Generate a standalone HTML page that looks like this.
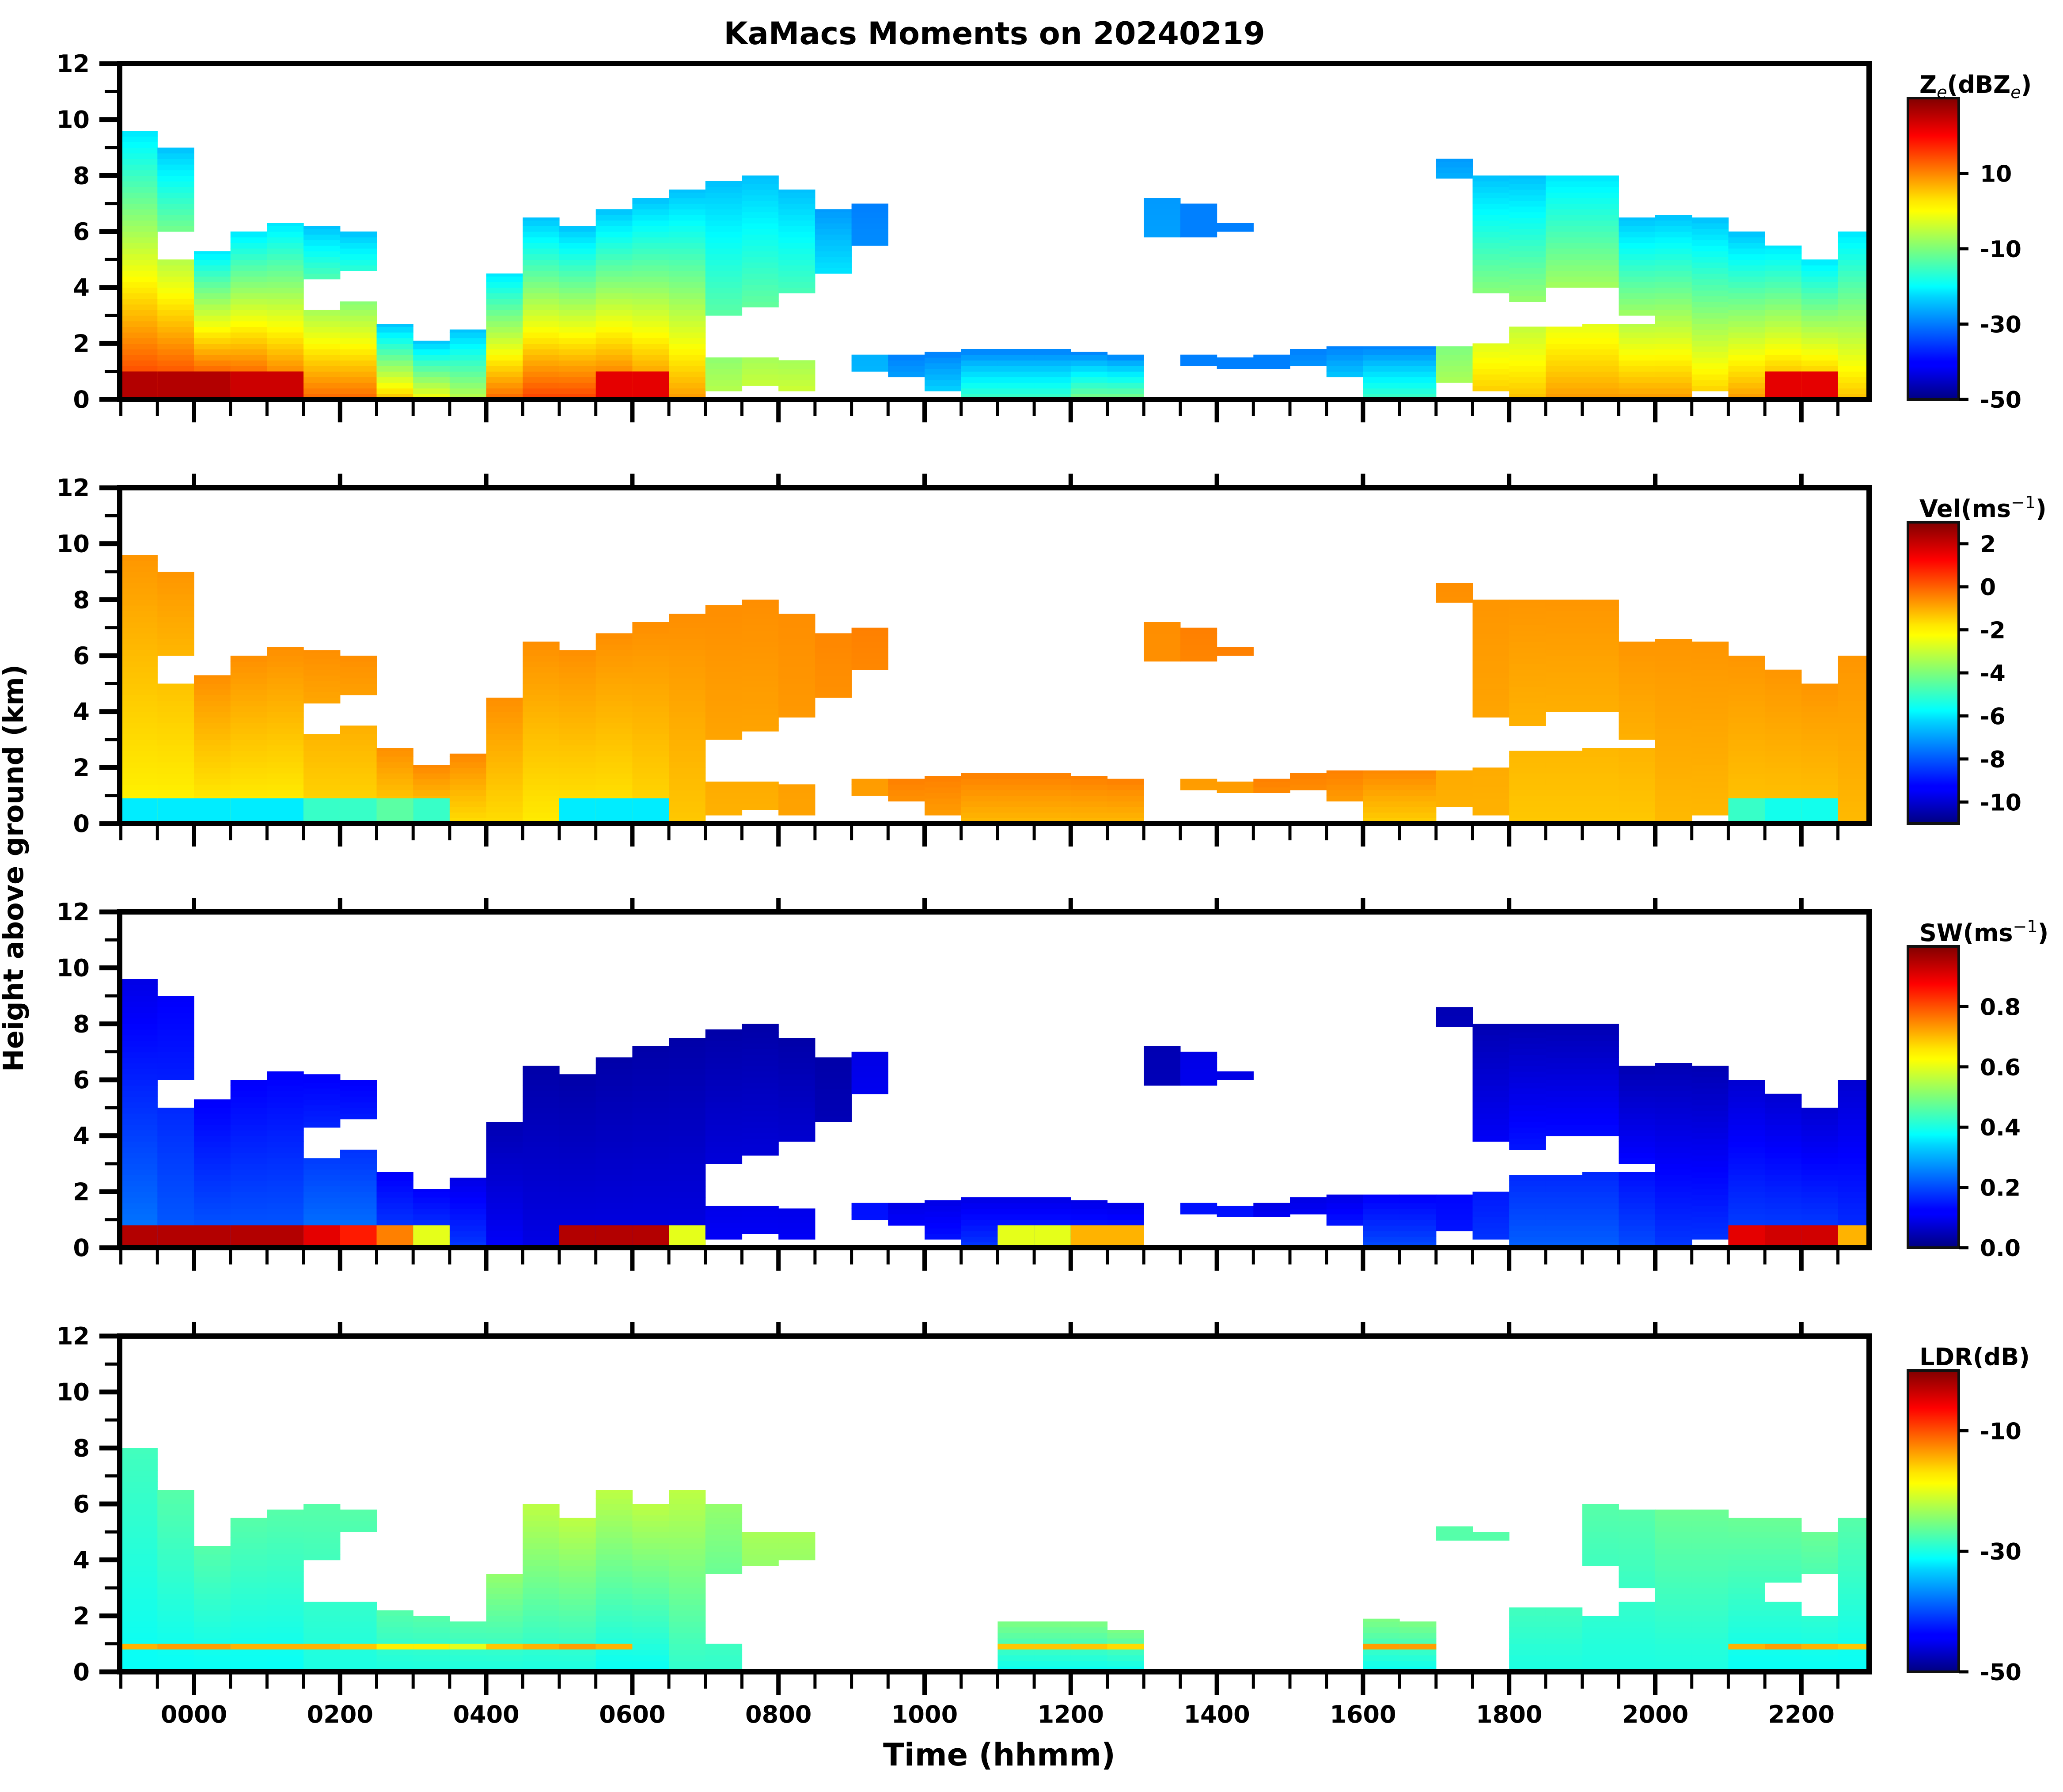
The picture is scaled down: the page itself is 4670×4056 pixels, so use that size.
<!DOCTYPE html>
<html><head><meta charset="utf-8"><style>
html,body{margin:0;padding:0;background:#fff}
svg{display:block;font-family:"DejaVu Sans","Liberation Sans",sans-serif;font-weight:bold}
</style></head><body>
<svg id="fig" xmlns="http://www.w3.org/2000/svg" width="4670" height="4056" viewBox="0 0 4670 4056">
<defs>
<linearGradient id="jet" x1="0" y1="1" x2="0" y2="0">
<stop offset="0" stop-color="#000080"/><stop offset="0.11" stop-color="#0000ff"/><stop offset="0.125" stop-color="#0000ff"/>
<stop offset="0.34" stop-color="#00d4ff"/><stop offset="0.375" stop-color="#00ffff"/><stop offset="0.5" stop-color="#7dff7a"/>
<stop offset="0.625" stop-color="#ffff00"/><stop offset="0.66" stop-color="#ffe600"/><stop offset="0.875" stop-color="#ff0000"/><stop offset="1" stop-color="#800000"/>
</linearGradient>
<clipPath id="plotclip"><rect x="277" y="0" width="3948" height="4056"/></clipPath>
</defs>
<text x="2251" y="100" text-anchor="middle" font-size="70">KaMacs Moments on 20240219</text>
<text x="2262" y="3996" text-anchor="middle" font-size="70">Time (hhmm)</text>
<text transform="translate(52,1965) rotate(-90)" text-anchor="middle" font-size="62">Height above ground (km)</text>
<g id="panels"></g>
</svg>
<script>
// column start times (hours relative to 0000 UTC), each 0.5 h wide
const colStart = [-1,-0.5,0,0.5,1,1.5,2,2.5,3,3.5,4,4.5,5,5.5,6,6.5,7,7.5,8,8.5,9,9.5,10,10.5,11,11.5,12,12.5,13,13.5,14,14.5,15,15.5,16,16.5,17,17.5,18,18.5,19,19.5,20,20.5,21,21.5,22,22.5];
// cloud layers (km) for Ze / Vel / SW
const base1 = [0,0,0,0,0,0,0,0,0,0,0,0,0,0,0,0,0.3,0.5,0.3,4.5,1.0,0.8,0.3,0,0,0,0,0,5.8,1.2,1.1,1.1,1.2,0.8,0,0,0.6,0.3,0,0,0,0,0,0.3,0,0,0,0];
const top1  = [9.6,5.0,5.3,6.0,6.3,3.2,3.5,2.7,2.1,2.5,4.5,6.5,6.2,6.8,7.2,7.5,1.5,1.5,1.4,6.8,1.6,1.6,1.7,1.8,1.8,1.8,1.7,1.6,7.2,1.6,1.5,1.6,1.8,1.9,1.9,1.9,1.9,2.0,2.6,2.6,2.7,2.7,6.6,6.5,6.0,5.5,5.0,6.0];
const base2 = [null,6.0,null,null,null,4.3,4.6,null,null,null,null,null,null,null,null,null,3.0,3.3,3.8,null,5.5,null,null,null,null,null,null,null,null,5.8,6.0,null,null,null,null,null,7.9,3.8,3.5,4.0,4.0,3.0,null,null,null,null,null,null];
const top2  = [null,9.0,null,null,null,6.2,6.0,null,null,null,null,null,null,null,null,null,7.8,8.0,7.5,null,7.0,null,null,null,null,null,null,null,null,7.0,6.3,null,null,null,null,null,8.6,8.0,8.0,8.0,8.0,6.5,null,null,null,null,null,null];
// Ze (dBZe) near-surface and cloud-top values, plus 0-1 km bright band
const zeBottom = [18,18,20,18,15,12,12,5,0,-5,12,15,15,15,12,8,-5,-3,-3,-10,-25,-25,-22,-15,-15,-15,-10,-10,-25,-30,-30,-30,-25,-20,-15,-15,-5,5,5,8,8,8,8,5,8,10,10,5];
const zeTop    = [-22,-25,-22,-22,-22,-25,-25,-25,-25,-25,-22,-25,-25,-25,-25,-25,-25,-25,-25,-28,-30,-30,-30,-30,-30,-30,-30,-30,-28,-30,-30,-30,-30,-30,-30,-30,-28,-25,-25,-22,-22,-25,-25,-25,-25,-22,-22,-22];
const zeBand   = [26,26,26,24,24,null,null,null,null,null,null,null,null,22,22,null,null,null,null,null,null,null,null,null,null,null,null,null,null,null,null,null,null,null,null,null,null,null,null,null,null,null,null,null,null,22,22,null];
// Doppler velocity (m/s)
const velBottom = [-2.2,-2.2,-2.2,-2.2,-2.2,-1.8,-1.8,-1.8,-1.8,-1.8,-1.8,-2,-2,-2,-1.8,-1.5,-1.2,-1.2,-1,-1,-1,-1,-1,-1.3,-1.3,-1.3,-1.3,-1.3,-0.8,-1,-1,-1,-1,-1.2,-1.6,-1.6,-1.2,-1.2,-1.5,-1.5,-1.5,-1.5,-1.3,-1.3,-1.5,-1.5,-1.5,-1.3];
const velTop    = [-0.8,-0.8,-0.7,-0.7,-0.7,-0.7,-0.7,-0.7,-0.6,-0.6,-0.7,-0.7,-0.7,-0.7,-0.7,-0.7,-0.7,-0.7,-0.7,-0.6,-0.5,-0.5,-0.5,-0.5,-0.5,-0.5,-0.5,-0.5,-0.7,-0.5,-0.5,-0.5,-0.5,-0.5,-0.6,-0.6,-0.7,-0.8,-0.8,-0.8,-0.8,-0.8,-0.8,-0.8,-0.8,-0.8,-0.8,-0.8];
const velBand   = [-6,-6,-6,-6,-6,-5,-5,-4.5,-5,null,null,null,-6,-6,-6,null,null,null,null,null,null,null,null,null,null,null,null,null,null,null,null,null,null,null,null,null,null,null,null,null,null,null,null,null,-5,-5.5,-5.5,null];
// spectrum width (m/s)
const swBottom = [0.25,0.22,0.22,0.22,0.22,0.25,0.25,0.2,0.2,0.18,0.12,0.1,0.1,0.1,0.1,0.1,0.12,0.12,0.12,0.08,0.15,0.15,0.15,0.18,0.18,0.18,0.18,0.18,0.08,0.15,0.15,0.15,0.15,0.18,0.2,0.2,0.15,0.18,0.22,0.22,0.22,0.2,0.18,0.18,0.2,0.2,0.2,0.18];
const swTop    = [0.1,0.12,0.12,0.12,0.12,0.12,0.12,0.12,0.12,0.1,0.05,0.04,0.04,0.04,0.04,0.04,0.04,0.04,0.04,0.04,0.1,0.1,0.1,0.1,0.1,0.1,0.1,0.1,0.05,0.1,0.1,0.1,0.1,0.1,0.12,0.12,0.05,0.05,0.05,0.05,0.05,0.05,0.05,0.05,0.08,0.08,0.08,0.08];
const swBand   = [0.95,0.95,0.95,0.95,0.95,0.9,0.85,0.75,0.6,null,null,null,0.95,0.95,0.95,0.6,null,null,null,null,null,null,null,null,0.6,0.6,0.7,0.7,null,null,null,null,null,null,null,null,null,null,null,null,null,null,null,null,0.9,0.92,0.92,0.7];
// LDR (dB) layers
const ldrBase1 = [0,0,0,0,0,0,0,0,0,0,0,0,0,0,0,0,0,3.8,4.0,null,null,null,null,null,0,0,0,0,null,null,null,null,null,null,0,0,4.7,4.7,0,0,0,0,0,0,0,0,0,0];
const ldrTop1  = [8.0,6.5,4.5,5.5,5.8,2.5,2.5,2.2,2.0,1.8,3.5,6.0,5.5,6.5,6.0,6.5,1.0,5.0,5.0,null,null,null,null,null,1.8,1.8,1.8,1.5,null,null,null,null,null,null,1.9,1.8,5.2,5.0,2.3,2.3,2.0,2.5,5.8,5.8,5.5,2.5,2.0,5.5];
const ldrBase2 = [null,null,null,null,null,4.0,5.0,null,null,null,null,null,null,null,null,null,3.5,null,null,null,null,null,null,null,null,null,null,null,null,null,null,null,null,null,null,null,null,null,null,null,3.8,3.0,null,null,null,3.2,3.5,null];
const ldrTop2  = [null,null,null,null,null,6.0,5.8,null,null,null,null,null,null,null,null,null,6.0,null,null,null,null,null,null,null,null,null,null,null,null,null,null,null,null,null,null,null,null,null,null,null,6.0,5.8,null,null,null,5.5,5.0,null];
const ldrBottom = [-31,-31,-31,-31,-31,-30,-30,-30,-30,-30,-30,-30,-30,-31,-31,-29,-29,-27,-27,-29,-29,-29,-29,-29,-31,-31,-31,-31,-29,-29,-29,-29,-29,-29,-31,-31,-28,-28,-30,-30,-30,-30,-30,-30,-31,-31,-31,-31];
const ldrTop    = [-28,-27,-27,-27,-27,-27,-27,-27,-27,-27,-24,-22,-22,-22,-22,-22,-24,-23,-23,-24,-24,-24,-24,-24,-25,-25,-25,-25,-24,-24,-24,-24,-24,-24,-25,-25,-27,-27,-28,-28,-27,-27,-26,-26,-26,-26,-26,-27];
const ldrBand   = [-15,-14,-14,-15,-15,-15,-16,-18,-18,-20,-16,-15,-14,-15,null,null,null,null,null,null,null,null,null,null,-16,-16,-16,-17,null,null,null,null,null,null,-14,-14,null,null,null,null,null,null,null,null,-15,-14,-15,-16];
// axis ticks
const yTicks = [0,2,4,6,8,10,12];
const yMinorTicks = [1,3,5,7,9,11];
const xMajorTicks = [0,2,4,6,8,10,12,14,16,18,20,22];
const xMajorLabels = ["0000","0200","0400","0600","0800","1000","1200","1400","1600","1800","2000","2200"];
const xMinorTicks = [-1,-0.5,0.5,1,1.5,2.5,3,3.5,4.5,5,5.5,6.5,7,7.5,8.5,9,9.5,10.5,11,11.5,12.5,13,13.5,14.5,15,15.5,16.5,17,17.5,18.5,19,19.5,20.5,21,21.5,22.5];
const zeCbTicks = [10,-10,-30,-50];
const velCbTicks = [2,0,-2,-4,-6,-8,-10];
const swCbTicks = [0.8,0.6,0.4,0.2,0.0];
const ldrCbTicks = [-10,-30,-50];

const NS = "http://www.w3.org/2000/svg";
const X0 = 439, PXH = 165.4, PH = 760, PXKM = PH/12;
function xScale(t){ return X0 + t*PXH; }
function jet(x){
  x = Math.max(0, Math.min(1, x));
  const c = v => Math.round(255*Math.max(0, Math.min(1, v)));
  return `rgb(${c(1.5-Math.abs(4*x-3))},${c(1.5-Math.abs(4*x-2))},${c(1.5-Math.abs(4*x-1))})`;
}
function mk(tag, attrs, parent){
  const e = document.createElementNS(NS, tag);
  for (const k in attrs) e.setAttribute(k, attrs[k]);
  parent.appendChild(e); return e;
}
const root = document.getElementById('panels');

const panels = [
 {name:'ze', top:144, b1:base1, t1:top1, b2:base2, t2:top2, vb:zeBottom, vt:zeTop, band:zeBand, bandLo:0, bandHi:1.0, vmin:-50, vmax:30, ticks:zeCbTicks, fmt:v=>String(v), title:'ze'},
 {name:'vel', top:1104, b1:base1, t1:top1, b2:base2, t2:top2, vb:velBottom, vt:velTop, band:velBand, bandLo:0, bandHi:0.9, vmin:-11, vmax:3, ticks:velCbTicks, fmt:v=>String(v), title:'vel'},
 {name:'sw', top:2064, b1:base1, t1:top1, b2:base2, t2:top2, vb:swBottom, vt:swTop, band:swBand, bandLo:0, bandHi:0.8, vmin:0, vmax:1.0, ticks:swCbTicks, fmt:v=>v.toFixed(1), title:'sw'},
 {name:'ldr', top:3024, b1:ldrBase1, t1:ldrTop1, b2:ldrBase2, t2:ldrTop2, vb:ldrBottom, vt:ldrTop, band:ldrBand, bandLo:0.8, bandHi:1.0, vmin:-50, vmax:0, ticks:ldrCbTicks, fmt:v=>String(v), title:'ldr'}
];

panels.forEach((p, pi) => {
  const bottom = p.top + PH;
  const yScale = h => bottom - h*PXKM;
  const g = mk('g', {}, root);
  
  
  const cells = mk('g', {'clip-path':'url(#plotclip)'}, g);
  
  
  const norm = v => (v - p.vmin)/(p.vmax - p.vmin);
  colStart.forEach((t, i) => {
    const x1 = xScale(t), x2 = xScale(t + 0.5);
    const tops = [p.t1[i], p.t2[i]].filter(v => v != null);
    if (!tops.length) return;
    const colTop = Math.max(...tops);
    const layers = [[p.b1[i], p.t1[i]], [p.b2[i], p.t2[i]]];
    layers.forEach(([b, tp]) => {
      if (b == null || tp == null) return;
      const step = 0.2;
      for (let h = b; h < tp - 1e-6; h += step) {
        const hh = Math.min(step, tp - h);
        const f = Math.min(1, (h + hh/2)/colTop);
        const v = p.vb[i] + (p.vt[i] - p.vb[i]) * f;
        const r = mk('rect', {x:x1.toFixed(1), y:yScale(h+hh).toFixed(1), width:(x2-x1+0.6).toFixed(1), height:(hh*PXKM+0.6).toFixed(1), fill:jet(norm(v))}, cells);
        
        
      }
      if (p.band[i] != null && b <= p.bandLo + 0.01) {
        const lo = Math.max(b, p.bandLo), hi = Math.min(tp, p.bandHi);
        if (hi > lo) {
          const r = mk('rect', {x:x1.toFixed(1), y:yScale(hi).toFixed(1), width:(x2-x1+0.6).toFixed(1), height:((hi-lo)*PXKM).toFixed(1), fill:jet(norm(p.band[i]))}, cells);
          
          
        }
      }
    });
  });
  const fr = mk('rect', {x:271, y:p.top, width:3960, height:PH, fill:'none', stroke:'#000', 'stroke-width':12}, g);
  
  
  yTicks.forEach(v => {
    const y = yScale(v);
    const l = mk('line', {x1:225, x2:271, y1:y, y2:y, stroke:'#000', 'stroke-width':11}, g);
    
    
    const tx = mk('text', {x:203, y:y+19, 'text-anchor':'end', 'font-size':54}, g);
    
    
    tx.textContent = v;
  });
  yMinorTicks.forEach(v => {
    const y = yScale(v);
    const l = mk('line', {x1:237, x2:271, y1:y, y2:y, stroke:'#000', 'stroke-width':7}, g);
    
    
  });
  xMajorTicks.forEach((t, k) => {
    const x = xScale(t);
    const l = mk('line', {x1:x, x2:x, y1:bottom+6, y2:bottom+52, stroke:'#000', 'stroke-width':10}, g);
    
    
    if (pi > 0) {
      const u = mk('line', {x1:x, x2:x, y1:p.top-6, y2:p.top-32, stroke:'#000', 'stroke-width':10}, g);
      
      
    }
    if (pi === panels.length - 1) {
      const tx = mk('text', {x:x, y:3899, 'text-anchor':'middle', 'font-size':54}, g);
      
      
      tx.textContent = xMajorLabels[k];
    }
  });
  xMinorTicks.forEach(t => {
    const x = xScale(t);
    const l = mk('line', {x1:x, x2:x, y1:bottom+6, y2:bottom+38, stroke:'#000', 'stroke-width':7}, g);
    
    
  });
  const cbTop = p.top + 78, cbBot = bottom, cbX = 4319, cbW = 115;
  const cb = mk('rect', {x:cbX, y:cbTop, width:cbW, height:cbBot-cbTop, fill:'url(#jet)', stroke:'#111', 'stroke-width':6}, g);
  
  
  const cbY = v => cbBot - (v - p.vmin)/(p.vmax - p.vmin)*(cbBot - cbTop);
  p.ticks.forEach(v => {
    const y = cbY(v);
    const l = mk('line', {x1:cbX+cbW, x2:cbX+cbW+22, y1:y, y2:y, stroke:'#000', 'stroke-width':7}, g);
    
    
    const tx = mk('text', {x:4482, y:y+19, 'font-size':52}, g);
    
    
    tx.textContent = p.fmt(v);
  });
  const tt = mk('text', {x:4345, y:p.top+66, 'font-size':54}, g);
  
  
  if (p.title === 'ze') {
    tt.innerHTML = 'Z<tspan font-size="38" font-style="italic" font-weight="normal" dy="12">e</tspan><tspan dy="-12">(dBZ</tspan><tspan font-size="38" font-style="italic" font-weight="normal" dy="12">e</tspan><tspan dy="-12">)</tspan>';
  } else if (p.title === 'vel') {
    tt.innerHTML = 'Vel(ms<tspan font-size="38" font-weight="normal" dy="-20">−1</tspan><tspan dy="20">)</tspan>';
  } else if (p.title === 'sw') {
    tt.innerHTML = 'SW(ms<tspan font-size="38" font-weight="normal" dy="-20">−1</tspan><tspan dy="20">)</tspan>';
  } else {
    tt.textContent = 'LDR(dB)';
  }
});
</script>
</body></html>
